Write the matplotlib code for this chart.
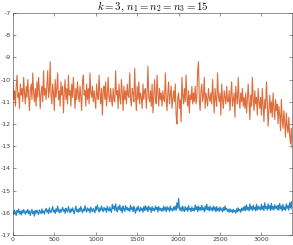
import numpy as np
import matplotlib
matplotlib.use("Agg")
import matplotlib.pyplot as plt

# iteration index, every 10 steps
iters = np.arange(0, 3400, 10)

# upper curve (orange)
orange = [
    -10.1, -10.9, -10.5, -11.2, -10.3, -9.8, -10.8, -10.6, -11.3, -10.2, -10.7, -10.4, -11.0, -9.9, -10.6, -11.1, -10.3, -10.8, -10.0, -10.7,
    -11.4, -10.5, -10.2, -10.9, -9.7, -10.6, -11.0, -10.4, -11.2, -10.1, -10.8, -9.9, -10.5, -11.3, -10.6, -10.3, -11.0, -9.6, -10.7, -10.4,
    -10.9, -10.3, -9.6, -10.8, -10.5, -9.2, -10.7, -11.1, -10.2, -10.6, -11.4, -10.0, -10.8, -10.4, -9.7, -10.9, -10.5, -11.2, -10.1, -10.7,
    -10.3, -11.5, -10.6, -10.0, -10.9, -10.4, -11.1, -9.8, -10.7, -10.5, -11.2, -10.2, -10.8, -9.9, -10.6, -11.3, -10.4, -10.9, -10.1, -10.7,
    -11.0, -10.3, -10.8, -11.4, -10.1, -9.8, -10.7, -10.5, -11.2, -10.2, -10.9, -10.4, -11.1, -9.7, -10.6, -10.8, -10.3, -11.0, -10.5, -10.9,
    -11.3, -10.2, -10.7, -10.9, -9.8, -10.6, -11.1, -10.4, -11.6, -10.5, -10.3, -10.9, -10.1, -11.2, -10.7, -9.9, -10.8, -11.0, -10.4, -10.9,
    -11.2, -10.4, -10.9, -11.0, -9.6, -10.7, -10.5, -11.3, -10.2, -10.8, -11.1, -10.0, -10.6, -11.4, -10.3, -10.9, -10.5, -11.1, -10.2, -10.7,
    -10.8, -9.7, -10.9, -11.2, -10.4, -10.6, -11.0, -9.5, -10.7, -11.4, -10.3, -10.9, -10.1, -11.1, -10.6, -10.8, -11.3, -10.2, -10.9, -10.5,
    -10.4, -11.3, -10.6, -9.4, -10.8, -11.0, -10.5, -11.2, -10.2, -11.5, -10.7, -10.0, -10.9, -11.1, -9.8, -10.6, -11.2, -10.4, -10.9, -10.6,
    -11.2, -10.5, -10.9, -11.0, -9.7, -10.8, -11.4, -10.6, -10.1, -11.1, -10.7, -10.3, -11.3, -10.9, -10.5, -11.0, -10.2, -11.6, -12.0, -10.8,
    -10.6, -11.3, -10.9, -11.9, -9.9, -10.7, -11.1, -10.4, -11.0, -9.8, -10.8, -11.2, -10.5, -11.5, -10.7, -10.9, -10.3, -11.1, -10.6, -11.0,
    -10.3, -11.1, -10.8, -9.6, -9.2, -10.9, -11.4, -10.5, -10.2, -11.0, -10.7, -9.9, -11.3, -10.6, -10.9, -11.2, -10.4, -10.8, -11.0, -10.6,
    -11.1, -10.0, -10.8, -11.5, -10.4, -10.9, -11.2, -9.7, -10.7, -11.0, -10.6, -11.6, -10.2, -10.9, -11.3, -10.5, -10.8, -11.1, -10.3, -11.0,
    -11.0, -10.5, -11.4, -10.7, -10.1, -11.2, -10.9, -10.6, -11.7, -10.3, -10.8, -11.1, -9.9, -10.9, -11.3, -10.6, -11.0, -10.4, -11.2, -10.8,
    -11.3, -10.6, -11.5, -10.9, -10.2, -11.0, -11.8, -10.7, -11.2, -9.9, -10.9, -11.4, -10.5, -11.1, -10.8, -11.6, -10.4, -11.0, -11.3, -10.8,
    -11.6, -10.4, -11.2, -11.9, -10.9, -11.3, -10.1, -11.0, -12.1, -11.4, -10.7, -11.5, -11.0, -11.7, -10.6, -11.3, -11.8, -10.9, -11.4, -11.1,
    -12.0, -11.2, -11.6, -12.3, -10.9, -11.8, -12.2, -11.4, -11.9, -12.6, -11.5, -12.1, -12.4, -11.7, -12.5, -12.9, -12.2, -13.1, -12.7, -13.4,
]

# lower curve (blue)
blue = [
    -15.95, -16.08, -15.88, -16.0, -16.12, -15.9, -15.98, -15.84, -16.05, -15.93, -16.1, -15.9, -16.02, -15.86, -15.97, -16.06, -15.91, -16.0, -15.85, -16.04,
    -15.92, -16.12, -15.96, -15.85, -16.05, -15.94, -16.15, -15.9, -16.02, -15.88, -15.99, -16.08, -15.87, -15.97, -16.03, -15.83, -16.0, -15.92, -16.06, -15.89,
    -15.8, -15.97, -15.88, -16.04, -15.78, -15.93, -16.0, -15.85, -15.72, -15.96, -15.88, -16.03, -15.82, -15.95, -15.7, -15.9, -16.0, -15.84, -15.98, -15.88,
    -15.75, -15.93, -15.85, -16.02, -15.8, -15.9, -15.97, -15.72, -15.88, -16.0, -15.83, -15.95, -15.78, -15.9, -16.05, -15.85, -15.7, -15.94, -15.86, -15.98,
    -15.8, -15.94, -15.72, -15.88, -16.0, -15.83, -15.92, -15.68, -15.86, -15.97, -15.78, -15.9, -15.82, -16.0, -15.75, -15.88, -15.95, -15.8, -15.9, -16.0,
    -15.72, -15.88, -15.65, -15.85, -15.97, -15.78, -15.9, -15.7, -15.86, -15.95, -15.76, -15.88, -15.8, -15.98, -15.7, -15.85, -15.92, -15.75, -15.88, -15.98,
    -15.62, -15.82, -15.7, -15.9, -15.6, -15.85, -15.95, -15.72, -15.86, -15.65, -15.9, -15.78, -16.0, -15.7, -15.84, -15.93, -15.68, -15.86, -15.76, -15.9,
    -15.8, -15.93, -15.66, -15.85, -15.76, -15.95, -15.7, -15.88, -16.02, -15.78, -15.9, -15.7, -15.86, -15.95, -15.75, -15.88, -15.8, -15.97, -15.72, -15.9,
    -15.68, -15.88, -15.75, -15.95, -15.7, -15.86, -15.78, -15.98, -15.72, -15.9, -15.8, -15.92, -15.7, -15.85, -15.76, -15.96, -15.72, -15.88, -15.8, -15.92,
    -15.8, -15.93, -15.7, -15.88, -15.76, -15.96, -15.72, -15.86, -15.78, -15.94, -15.7, -15.88, -15.82, -15.92, -15.74, -15.86, -15.7, -15.9, -15.55, -15.8,
    -15.35, -15.8, -15.9, -15.75, -15.93, -15.7, -15.86, -15.95, -15.72, -15.88, -15.78, -15.94, -15.68, -15.86, -15.8, -15.95, -15.74, -15.9, -15.8, -15.92,
    -15.65, -15.86, -15.72, -15.95, -15.7, -15.88, -15.76, -15.9, -15.66, -15.85, -15.78, -15.95, -15.7, -15.88, -15.62, -15.86, -15.75, -15.92, -15.7, -15.88,
    -15.78, -15.92, -15.7, -15.88, -15.75, -15.96, -15.72, -15.9, -15.8, -15.94, -15.74, -15.88, -15.82, -15.96, -15.76, -15.9, -15.7, -15.86, -15.8, -15.94,
    -15.85, -15.98, -15.82, -15.95, -15.88, -16.0, -15.84, -15.96, -15.9, -16.02, -15.82, -15.95, -15.78, -15.92, -15.85, -15.98, -15.8, -15.9, -15.75, -15.9,
    -15.7, -15.9, -15.65, -15.86, -15.76, -15.92, -15.6, -15.84, -15.72, -15.9, -15.66, -15.85, -15.75, -15.92, -15.62, -15.88, -15.7, -15.84, -15.74, -15.88,
    -15.62, -15.85, -15.7, -15.9, -15.55, -15.8, -15.72, -15.88, -15.6, -15.82, -15.68, -15.9, -15.58, -15.84, -15.72, -15.88, -15.64, -15.8, -15.7, -15.86,
    -15.65, -15.88, -15.58, -15.82, -15.7, -15.92, -15.62, -15.85, -15.74, -15.9, -15.6, -15.8, -15.68, -15.88, -15.55, -15.78, -15.5, -15.85, -15.3, -15.25,
]

plt.rcParams['mathtext.fontset'] = 'cm'
plt.rcParams['axes.unicode_minus'] = False

fig = plt.figure(figsize=(2.93, 2.45), dpi=100)
ax = fig.add_axes([0.044, 0.041, 0.953, 0.906])

ax.plot(iters, blue, color='#0072BD', lw=0.9, alpha=0.85)
ax.plot(iters, orange, color='#D95319', lw=0.8, alpha=0.85)

ax.set_xlim(0, 3370)
ax.set_ylim(-17, -7)
ax.set_xticks(np.arange(0, 3001, 500))
ax.set_yticks(np.arange(-17, -6, 1))
ax.tick_params(direction='in', length=2, width=0.4, labelsize=4.5,
               colors='#404040', pad=1.5, top=True, right=True)
for s in ax.spines.values():
    s.set_linewidth(0.4)
    s.set_color('#404040')

ax.set_title(r'$k=3,\, n_1=n_2=n_3=15$', fontsize=7.8, pad=2)

fig.savefig('out.png', dpi=100)
